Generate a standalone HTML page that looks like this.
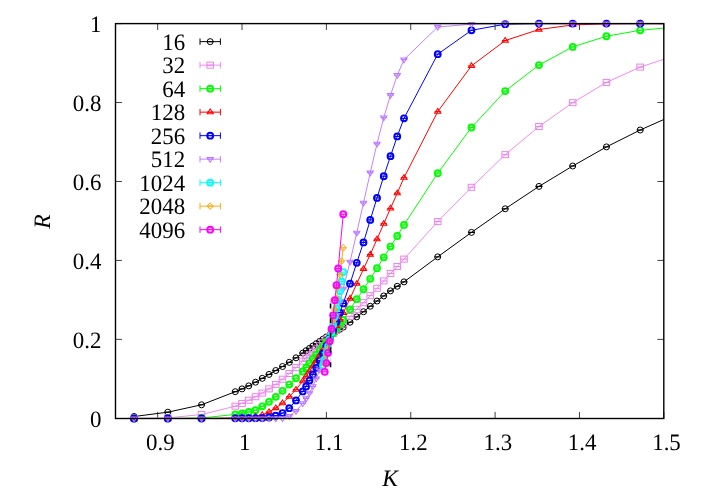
<!DOCTYPE html>
<html><head><meta charset="utf-8"><title>R vs K</title>
<style>html,body{margin:0;padding:0;background:#fff}svg{display:block;will-change:transform}text{font-family:"Liberation Serif",serif;font-size:23.5px;fill:#000;text-rendering:geometricPrecision}</style></head><body>
<svg width="706" height="494" viewBox="0 0 706 494">
<rect width="706" height="494" fill="#fff"/>
<path d="M157.68 418.3V411.9M157.68 23.6V30M242.03 418.3V411.9M242.03 23.6V30M326.38 418.3V411.9M326.38 23.6V30M410.74 418.3V411.9M410.74 23.6V30M495.09 418.3V411.9M495.09 23.6V30M579.45 418.3V411.9M579.45 23.6V30M663.8 418.3V411.9M663.8 23.6V30M115.5 418.5H121.9M663.8 418.5H657.4M115.5 339.36H121.9M663.8 339.36H657.4M115.5 260.42H121.9M663.8 260.42H657.4M115.5 181.48H121.9M663.8 181.48H657.4M115.5 102.54H121.9M663.8 102.54H657.4M115.5 23.6H121.9M663.8 23.6H657.4" stroke="#000" stroke-width="0.75" fill="none"/>
<text transform="translate(160.38 450) scale(0.975 1)" text-anchor="middle">0.9</text>
<text transform="translate(244.73 450) scale(0.975 1)" text-anchor="middle">1</text>
<text transform="translate(329.08 450) scale(0.975 1)" text-anchor="middle">1.1</text>
<text transform="translate(413.44 450) scale(0.975 1)" text-anchor="middle">1.2</text>
<text transform="translate(497.79 450) scale(0.975 1)" text-anchor="middle">1.3</text>
<text transform="translate(582.15 450) scale(0.975 1)" text-anchor="middle">1.4</text>
<text transform="translate(666.5 450) scale(0.975 1)" text-anchor="middle">1.5</text>
<text transform="translate(101.4 426.8) scale(0.975 1)" text-anchor="end">0</text>
<text transform="translate(101.4 347.66) scale(0.975 1)" text-anchor="end">0.2</text>
<text transform="translate(101.4 268.72) scale(0.975 1)" text-anchor="end">0.4</text>
<text transform="translate(101.4 189.78) scale(0.975 1)" text-anchor="end">0.6</text>
<text transform="translate(101.4 110.84) scale(0.975 1)" text-anchor="end">0.8</text>
<text transform="translate(101.4 31.9) scale(0.975 1)" text-anchor="end">1</text>
<text x="390" y="485.5" text-anchor="middle" font-style="italic" style="font-size:23.5px">K</text>
<text transform="translate(50.3 221.5) rotate(-90)" text-anchor="middle" font-style="italic" style="font-size:23.5px">R</text>
<defs><clipPath id="c"><rect x="115.5" y="23.1" width="548.3" height="395.7"/></clipPath></defs>
<g fill="none"><path d="M200 41.65H220.4M200 38.45V44.85M220.4 38.45V44.85" stroke="#000000" stroke-width="1.0"/><circle cx="210.2" cy="41.65" r="3" stroke="#000000" stroke-width="1"/><path d="M206.9 41.65H213.5" stroke="#000000" stroke-width="1.2"/><path d="M134.06 416.51L167.8 412.18L201.54 404.8L235.28 391.7L242.03 388.89L248.78 385.86L255.53 382.18L262.28 378.32L269.02 374.41L275.77 370.5L282.52 366.52L289.27 362.33L296.02 357.83L302.77 353.1L306.14 350.72L309.51 348.36L312.89 346.02L316.26 343.7L319.64 341.42L323.01 339.16L326.38 336.91L329.76 334.94L333.13 333.04L336.51 331.16L339.88 329.27L343.26 327.2L350 322.23L356.75 316.86L363.5 311.73L370.25 306.24L377 301.03L383.75 295.94L390.49 290.89L397.24 286.27L403.99 281.89L437.73 256.87L471.47 232.4L505.21 208.79L538.96 186.41L572.7 166.01L606.44 146.9L640.18 130.01L673.92 115.01" stroke="#000000" stroke-width="1.0" stroke-linejoin="round" clip-path="url(#c)"/><circle cx="134.06" cy="416.51" r="3" stroke="#000000" stroke-width="1"/><path d="M130.76 416.51H137.36" stroke="#000000" stroke-width="1.2"/><circle cx="167.8" cy="412.18" r="3" stroke="#000000" stroke-width="1"/><path d="M164.5 412.18H171.1" stroke="#000000" stroke-width="1.2"/><circle cx="201.54" cy="404.8" r="3" stroke="#000000" stroke-width="1"/><path d="M198.24 404.8H204.84" stroke="#000000" stroke-width="1.2"/><circle cx="235.28" cy="391.7" r="3" stroke="#000000" stroke-width="1"/><path d="M231.98 391.7H238.58" stroke="#000000" stroke-width="1.2"/><circle cx="242.03" cy="388.89" r="3" stroke="#000000" stroke-width="1"/><path d="M238.73 388.89H245.33" stroke="#000000" stroke-width="1.2"/><circle cx="248.78" cy="385.86" r="3" stroke="#000000" stroke-width="1"/><path d="M245.48 385.86H252.08" stroke="#000000" stroke-width="1.2"/><circle cx="255.53" cy="382.18" r="3" stroke="#000000" stroke-width="1"/><path d="M252.23 382.18H258.83" stroke="#000000" stroke-width="1.2"/><circle cx="262.28" cy="378.32" r="3" stroke="#000000" stroke-width="1"/><path d="M258.98 378.32H265.58" stroke="#000000" stroke-width="1.2"/><circle cx="269.02" cy="374.41" r="3" stroke="#000000" stroke-width="1"/><path d="M265.72 374.41H272.32" stroke="#000000" stroke-width="1.2"/><circle cx="275.77" cy="370.5" r="3" stroke="#000000" stroke-width="1"/><path d="M272.47 370.5H279.07" stroke="#000000" stroke-width="1.2"/><circle cx="282.52" cy="366.52" r="3" stroke="#000000" stroke-width="1"/><path d="M279.22 366.52H285.82" stroke="#000000" stroke-width="1.2"/><circle cx="289.27" cy="362.33" r="3" stroke="#000000" stroke-width="1"/><path d="M285.97 362.33H292.57" stroke="#000000" stroke-width="1.2"/><circle cx="296.02" cy="357.83" r="3" stroke="#000000" stroke-width="1"/><path d="M292.72 357.83H299.32" stroke="#000000" stroke-width="1.2"/><circle cx="302.77" cy="353.1" r="3" stroke="#000000" stroke-width="1"/><path d="M299.47 353.1H306.07" stroke="#000000" stroke-width="1.2"/><circle cx="306.14" cy="350.72" r="3" stroke="#000000" stroke-width="1"/><path d="M302.84 350.72H309.44" stroke="#000000" stroke-width="1.2"/><circle cx="309.51" cy="348.36" r="3" stroke="#000000" stroke-width="1"/><path d="M306.21 348.36H312.81" stroke="#000000" stroke-width="1.2"/><circle cx="312.89" cy="346.02" r="3" stroke="#000000" stroke-width="1"/><path d="M309.59 346.02H316.19" stroke="#000000" stroke-width="1.2"/><circle cx="316.26" cy="343.7" r="3" stroke="#000000" stroke-width="1"/><path d="M312.96 343.7H319.56" stroke="#000000" stroke-width="1.2"/><circle cx="319.64" cy="341.42" r="3" stroke="#000000" stroke-width="1"/><path d="M316.34 341.42H322.94" stroke="#000000" stroke-width="1.2"/><circle cx="323.01" cy="339.16" r="3" stroke="#000000" stroke-width="1"/><path d="M319.71 339.16H326.31" stroke="#000000" stroke-width="1.2"/><circle cx="326.38" cy="336.91" r="3" stroke="#000000" stroke-width="1"/><path d="M323.08 336.91H329.68" stroke="#000000" stroke-width="1.2"/><circle cx="329.76" cy="334.94" r="3" stroke="#000000" stroke-width="1"/><path d="M326.46 334.94H333.06" stroke="#000000" stroke-width="1.2"/><circle cx="333.13" cy="333.04" r="3" stroke="#000000" stroke-width="1"/><path d="M329.83 333.04H336.43" stroke="#000000" stroke-width="1.2"/><circle cx="336.51" cy="331.16" r="3" stroke="#000000" stroke-width="1"/><path d="M333.21 331.16H339.81" stroke="#000000" stroke-width="1.2"/><circle cx="339.88" cy="329.27" r="3" stroke="#000000" stroke-width="1"/><path d="M336.58 329.27H343.18" stroke="#000000" stroke-width="1.2"/><circle cx="343.26" cy="327.2" r="3" stroke="#000000" stroke-width="1"/><path d="M339.96 327.2H346.56" stroke="#000000" stroke-width="1.2"/><circle cx="350" cy="322.23" r="3" stroke="#000000" stroke-width="1"/><path d="M346.7 322.23H353.3" stroke="#000000" stroke-width="1.2"/><circle cx="356.75" cy="316.86" r="3" stroke="#000000" stroke-width="1"/><path d="M353.45 316.86H360.05" stroke="#000000" stroke-width="1.2"/><circle cx="363.5" cy="311.73" r="3" stroke="#000000" stroke-width="1"/><path d="M360.2 311.73H366.8" stroke="#000000" stroke-width="1.2"/><circle cx="370.25" cy="306.24" r="3" stroke="#000000" stroke-width="1"/><path d="M366.95 306.24H373.55" stroke="#000000" stroke-width="1.2"/><circle cx="377" cy="301.03" r="3" stroke="#000000" stroke-width="1"/><path d="M373.7 301.03H380.3" stroke="#000000" stroke-width="1.2"/><circle cx="383.75" cy="295.94" r="3" stroke="#000000" stroke-width="1"/><path d="M380.45 295.94H387.05" stroke="#000000" stroke-width="1.2"/><circle cx="390.49" cy="290.89" r="3" stroke="#000000" stroke-width="1"/><path d="M387.19 290.89H393.79" stroke="#000000" stroke-width="1.2"/><circle cx="397.24" cy="286.27" r="3" stroke="#000000" stroke-width="1"/><path d="M393.94 286.27H400.54" stroke="#000000" stroke-width="1.2"/><circle cx="403.99" cy="281.89" r="3" stroke="#000000" stroke-width="1"/><path d="M400.69 281.89H407.29" stroke="#000000" stroke-width="1.2"/><circle cx="437.73" cy="256.87" r="3" stroke="#000000" stroke-width="1"/><path d="M434.43 256.87H441.03" stroke="#000000" stroke-width="1.2"/><circle cx="471.47" cy="232.4" r="3" stroke="#000000" stroke-width="1"/><path d="M468.17 232.4H474.77" stroke="#000000" stroke-width="1.2"/><circle cx="505.21" cy="208.79" r="3" stroke="#000000" stroke-width="1"/><path d="M501.91 208.79H508.51" stroke="#000000" stroke-width="1.2"/><circle cx="538.96" cy="186.41" r="3" stroke="#000000" stroke-width="1"/><path d="M535.66 186.41H542.26" stroke="#000000" stroke-width="1.2"/><circle cx="572.7" cy="166.01" r="3" stroke="#000000" stroke-width="1"/><path d="M569.4 166.01H576" stroke="#000000" stroke-width="1.2"/><circle cx="606.44" cy="146.9" r="3" stroke="#000000" stroke-width="1"/><path d="M603.14 146.9H609.74" stroke="#000000" stroke-width="1.2"/><circle cx="640.18" cy="130.01" r="3" stroke="#000000" stroke-width="1"/><path d="M636.88 130.01H643.48" stroke="#000000" stroke-width="1.2"/></g>
<text transform="translate(185.1 49.7) scale(0.975 1)" text-anchor="end">16</text>
<g fill="none"><path d="M200 65.15H220.4M200 61.95V68.35M220.4 61.95V68.35" stroke="#ee82ee" stroke-width="0.92"/><rect x="206.9" y="62.15" width="6.6" height="6" stroke="#ee82ee" stroke-width="1"/><path d="M206.9 65.15H213.5" stroke="#ee82ee" stroke-width="1.1"/><path d="M134.06 418.38L167.8 417.88L201.54 414.52L235.28 406.18L242.03 403.42L248.78 400.22L255.53 396.71L262.28 393.04L269.02 388.89L275.77 384.36L282.52 379.22L289.27 373.5L296.02 367.58L302.77 361.19L306.14 358.06L309.51 354.97L312.89 351.91L316.26 348.86L319.64 345.81L323.01 342.76L326.38 339.69L329.76 336.6L333.13 333.53L336.51 330.48L339.88 327.34L343.26 324.01L350 316.47L356.75 309.36L363.5 302.69L370.25 295.63L377 288.29L383.75 280.94L390.49 273.45L397.24 266.5L403.99 259.12L437.73 221.58L471.47 187.28L505.21 154.64L538.96 126.5L572.7 102.7L606.44 82.41L640.18 67.1L673.92 55.97" stroke="#ee82ee" stroke-width="0.92" stroke-linejoin="round" clip-path="url(#c)"/><rect x="130.76" y="415.38" width="6.6" height="6" stroke="#ee82ee" stroke-width="1"/><path d="M130.76 418.38H137.36" stroke="#ee82ee" stroke-width="1.1"/><rect x="164.5" y="414.88" width="6.6" height="6" stroke="#ee82ee" stroke-width="1"/><path d="M164.5 417.88H171.1" stroke="#ee82ee" stroke-width="1.1"/><rect x="198.24" y="411.52" width="6.6" height="6" stroke="#ee82ee" stroke-width="1"/><path d="M198.24 414.52H204.84" stroke="#ee82ee" stroke-width="1.1"/><rect x="231.98" y="403.18" width="6.6" height="6" stroke="#ee82ee" stroke-width="1"/><path d="M231.98 406.18H238.58" stroke="#ee82ee" stroke-width="1.1"/><rect x="238.73" y="400.42" width="6.6" height="6" stroke="#ee82ee" stroke-width="1"/><path d="M238.73 403.42H245.33" stroke="#ee82ee" stroke-width="1.1"/><rect x="245.48" y="397.22" width="6.6" height="6" stroke="#ee82ee" stroke-width="1"/><path d="M245.48 400.22H252.08" stroke="#ee82ee" stroke-width="1.1"/><rect x="252.23" y="393.71" width="6.6" height="6" stroke="#ee82ee" stroke-width="1"/><path d="M252.23 396.71H258.83" stroke="#ee82ee" stroke-width="1.1"/><rect x="258.98" y="390.04" width="6.6" height="6" stroke="#ee82ee" stroke-width="1"/><path d="M258.98 393.04H265.58" stroke="#ee82ee" stroke-width="1.1"/><rect x="265.72" y="385.89" width="6.6" height="6" stroke="#ee82ee" stroke-width="1"/><path d="M265.72 388.89H272.32" stroke="#ee82ee" stroke-width="1.1"/><rect x="272.47" y="381.36" width="6.6" height="6" stroke="#ee82ee" stroke-width="1"/><path d="M272.47 384.36H279.07" stroke="#ee82ee" stroke-width="1.1"/><rect x="279.22" y="376.22" width="6.6" height="6" stroke="#ee82ee" stroke-width="1"/><path d="M279.22 379.22H285.82" stroke="#ee82ee" stroke-width="1.1"/><rect x="285.97" y="370.5" width="6.6" height="6" stroke="#ee82ee" stroke-width="1"/><path d="M285.97 373.5H292.57" stroke="#ee82ee" stroke-width="1.1"/><rect x="292.72" y="364.58" width="6.6" height="6" stroke="#ee82ee" stroke-width="1"/><path d="M292.72 367.58H299.32" stroke="#ee82ee" stroke-width="1.1"/><rect x="299.47" y="358.19" width="6.6" height="6" stroke="#ee82ee" stroke-width="1"/><path d="M299.47 361.19H306.07" stroke="#ee82ee" stroke-width="1.1"/><rect x="302.84" y="355.06" width="6.6" height="6" stroke="#ee82ee" stroke-width="1"/><path d="M302.84 358.06H309.44" stroke="#ee82ee" stroke-width="1.1"/><rect x="306.21" y="351.97" width="6.6" height="6" stroke="#ee82ee" stroke-width="1"/><path d="M306.21 354.97H312.81" stroke="#ee82ee" stroke-width="1.1"/><rect x="309.59" y="348.91" width="6.6" height="6" stroke="#ee82ee" stroke-width="1"/><path d="M309.59 351.91H316.19" stroke="#ee82ee" stroke-width="1.1"/><rect x="312.96" y="345.86" width="6.6" height="6" stroke="#ee82ee" stroke-width="1"/><path d="M312.96 348.86H319.56" stroke="#ee82ee" stroke-width="1.1"/><rect x="316.34" y="342.81" width="6.6" height="6" stroke="#ee82ee" stroke-width="1"/><path d="M316.34 345.81H322.94" stroke="#ee82ee" stroke-width="1.1"/><rect x="319.71" y="339.76" width="6.6" height="6" stroke="#ee82ee" stroke-width="1"/><path d="M319.71 342.76H326.31" stroke="#ee82ee" stroke-width="1.1"/><rect x="323.08" y="336.69" width="6.6" height="6" stroke="#ee82ee" stroke-width="1"/><path d="M323.08 339.69H329.68" stroke="#ee82ee" stroke-width="1.1"/><rect x="326.46" y="333.6" width="6.6" height="6" stroke="#ee82ee" stroke-width="1"/><path d="M326.46 336.6H333.06" stroke="#ee82ee" stroke-width="1.1"/><rect x="329.83" y="330.53" width="6.6" height="6" stroke="#ee82ee" stroke-width="1"/><path d="M329.83 333.53H336.43" stroke="#ee82ee" stroke-width="1.1"/><rect x="333.21" y="327.48" width="6.6" height="6" stroke="#ee82ee" stroke-width="1"/><path d="M333.21 330.48H339.81" stroke="#ee82ee" stroke-width="1.1"/><rect x="336.58" y="324.34" width="6.6" height="6" stroke="#ee82ee" stroke-width="1"/><path d="M336.58 327.34H343.18" stroke="#ee82ee" stroke-width="1.1"/><rect x="339.96" y="321.01" width="6.6" height="6" stroke="#ee82ee" stroke-width="1"/><path d="M339.96 324.01H346.56" stroke="#ee82ee" stroke-width="1.1"/><rect x="346.7" y="313.47" width="6.6" height="6" stroke="#ee82ee" stroke-width="1"/><path d="M346.7 316.47H353.3" stroke="#ee82ee" stroke-width="1.1"/><rect x="353.45" y="306.36" width="6.6" height="6" stroke="#ee82ee" stroke-width="1"/><path d="M353.45 309.36H360.05" stroke="#ee82ee" stroke-width="1.1"/><rect x="360.2" y="299.69" width="6.6" height="6" stroke="#ee82ee" stroke-width="1"/><path d="M360.2 302.69H366.8" stroke="#ee82ee" stroke-width="1.1"/><rect x="366.95" y="292.63" width="6.6" height="6" stroke="#ee82ee" stroke-width="1"/><path d="M366.95 295.63H373.55" stroke="#ee82ee" stroke-width="1.1"/><rect x="373.7" y="285.29" width="6.6" height="6" stroke="#ee82ee" stroke-width="1"/><path d="M373.7 288.29H380.3" stroke="#ee82ee" stroke-width="1.1"/><rect x="380.45" y="277.94" width="6.6" height="6" stroke="#ee82ee" stroke-width="1"/><path d="M380.45 280.94H387.05" stroke="#ee82ee" stroke-width="1.1"/><rect x="387.19" y="270.45" width="6.6" height="6" stroke="#ee82ee" stroke-width="1"/><path d="M387.19 273.45H393.79" stroke="#ee82ee" stroke-width="1.1"/><rect x="393.94" y="263.5" width="6.6" height="6" stroke="#ee82ee" stroke-width="1"/><path d="M393.94 266.5H400.54" stroke="#ee82ee" stroke-width="1.1"/><rect x="400.69" y="256.12" width="6.6" height="6" stroke="#ee82ee" stroke-width="1"/><path d="M400.69 259.12H407.29" stroke="#ee82ee" stroke-width="1.1"/><rect x="434.43" y="218.58" width="6.6" height="6" stroke="#ee82ee" stroke-width="1"/><path d="M434.43 221.58H441.03" stroke="#ee82ee" stroke-width="1.1"/><rect x="468.17" y="184.28" width="6.6" height="6" stroke="#ee82ee" stroke-width="1"/><path d="M468.17 187.28H474.77" stroke="#ee82ee" stroke-width="1.1"/><rect x="501.91" y="151.64" width="6.6" height="6" stroke="#ee82ee" stroke-width="1"/><path d="M501.91 154.64H508.51" stroke="#ee82ee" stroke-width="1.1"/><rect x="535.66" y="123.5" width="6.6" height="6" stroke="#ee82ee" stroke-width="1"/><path d="M535.66 126.5H542.26" stroke="#ee82ee" stroke-width="1.1"/><rect x="569.4" y="99.7" width="6.6" height="6" stroke="#ee82ee" stroke-width="1"/><path d="M569.4 102.7H576" stroke="#ee82ee" stroke-width="1.1"/><rect x="603.14" y="79.41" width="6.6" height="6" stroke="#ee82ee" stroke-width="1"/><path d="M603.14 82.41H609.74" stroke="#ee82ee" stroke-width="1.1"/><rect x="636.88" y="64.1" width="6.6" height="6" stroke="#ee82ee" stroke-width="1"/><path d="M636.88 67.1H643.48" stroke="#ee82ee" stroke-width="1.1"/></g>
<text transform="translate(185.1 73.2) scale(0.975 1)" text-anchor="end">32</text>
<g fill="none"><path d="M200 88.65H220.4M200 85.45V91.85M220.4 85.45V91.85" stroke="#00ff00" stroke-width="1.0"/><circle cx="210.2" cy="88.65" r="2.95" stroke="#00ff00" stroke-width="1.9"/><path d="M206.8 88.65H213.6" stroke="#00ff00" stroke-width="1.2"/><path d="M134.06 418.5L167.8 418.42L201.54 418L235.28 414.39L242.03 413.48L248.78 411.98L255.53 410.21L262.28 406.3L269.02 401.84L275.77 396.79L282.52 390.87L289.27 384.55L296.02 378.24L302.77 371.49L306.14 367.38L309.51 363.12L312.89 358.9L316.26 354.67L319.64 350.39L323.01 346.07L326.38 341.73L329.76 337.39L333.13 333.14L336.51 328.95L339.88 324.64L343.26 320.02L350 309.4L356.75 299.18L363.5 289.23L370.25 278.81L377 268.2L383.75 257.3L390.49 246.53L397.24 235.99L403.99 224.9L437.73 173.19L471.47 127.49L505.21 91.09L538.96 65.04L572.7 46.89L606.44 36.23L640.18 30.31L673.92 27.15" stroke="#00ff00" stroke-width="1.0" stroke-linejoin="round" clip-path="url(#c)"/><circle cx="134.06" cy="418.5" r="2.95" stroke="#00ff00" stroke-width="1.9"/><path d="M130.66 418.5H137.46" stroke="#00ff00" stroke-width="1.2"/><circle cx="167.8" cy="418.42" r="2.95" stroke="#00ff00" stroke-width="1.9"/><path d="M164.4 418.42H171.2" stroke="#00ff00" stroke-width="1.2"/><circle cx="201.54" cy="418" r="2.95" stroke="#00ff00" stroke-width="1.9"/><path d="M198.14 418H204.94" stroke="#00ff00" stroke-width="1.2"/><circle cx="235.28" cy="414.39" r="2.95" stroke="#00ff00" stroke-width="1.9"/><path d="M231.88 414.39H238.68" stroke="#00ff00" stroke-width="1.2"/><circle cx="242.03" cy="413.48" r="2.95" stroke="#00ff00" stroke-width="1.9"/><path d="M238.63 413.48H245.43" stroke="#00ff00" stroke-width="1.2"/><circle cx="248.78" cy="411.98" r="2.95" stroke="#00ff00" stroke-width="1.9"/><path d="M245.38 411.98H252.18" stroke="#00ff00" stroke-width="1.2"/><circle cx="255.53" cy="410.21" r="2.95" stroke="#00ff00" stroke-width="1.9"/><path d="M252.13 410.21H258.93" stroke="#00ff00" stroke-width="1.2"/><circle cx="262.28" cy="406.3" r="2.95" stroke="#00ff00" stroke-width="1.9"/><path d="M258.88 406.3H265.68" stroke="#00ff00" stroke-width="1.2"/><circle cx="269.02" cy="401.84" r="2.95" stroke="#00ff00" stroke-width="1.9"/><path d="M265.62 401.84H272.42" stroke="#00ff00" stroke-width="1.2"/><circle cx="275.77" cy="396.79" r="2.95" stroke="#00ff00" stroke-width="1.9"/><path d="M272.37 396.79H279.17" stroke="#00ff00" stroke-width="1.2"/><circle cx="282.52" cy="390.87" r="2.95" stroke="#00ff00" stroke-width="1.9"/><path d="M279.12 390.87H285.92" stroke="#00ff00" stroke-width="1.2"/><circle cx="289.27" cy="384.55" r="2.95" stroke="#00ff00" stroke-width="1.9"/><path d="M285.87 384.55H292.67" stroke="#00ff00" stroke-width="1.2"/><circle cx="296.02" cy="378.24" r="2.95" stroke="#00ff00" stroke-width="1.9"/><path d="M292.62 378.24H299.42" stroke="#00ff00" stroke-width="1.2"/><circle cx="302.77" cy="371.49" r="2.95" stroke="#00ff00" stroke-width="1.9"/><path d="M299.37 371.49H306.17" stroke="#00ff00" stroke-width="1.2"/><circle cx="306.14" cy="367.38" r="2.95" stroke="#00ff00" stroke-width="1.9"/><path d="M302.74 367.38H309.54" stroke="#00ff00" stroke-width="1.2"/><circle cx="309.51" cy="363.12" r="2.95" stroke="#00ff00" stroke-width="1.9"/><path d="M306.11 363.12H312.91" stroke="#00ff00" stroke-width="1.2"/><circle cx="312.89" cy="358.9" r="2.95" stroke="#00ff00" stroke-width="1.9"/><path d="M309.49 358.9H316.29" stroke="#00ff00" stroke-width="1.2"/><circle cx="316.26" cy="354.67" r="2.95" stroke="#00ff00" stroke-width="1.9"/><path d="M312.86 354.67H319.66" stroke="#00ff00" stroke-width="1.2"/><circle cx="319.64" cy="350.39" r="2.95" stroke="#00ff00" stroke-width="1.9"/><path d="M316.24 350.39H323.04" stroke="#00ff00" stroke-width="1.2"/><circle cx="323.01" cy="346.07" r="2.95" stroke="#00ff00" stroke-width="1.9"/><path d="M319.61 346.07H326.41" stroke="#00ff00" stroke-width="1.2"/><circle cx="326.38" cy="341.73" r="2.95" stroke="#00ff00" stroke-width="1.9"/><path d="M322.98 341.73H329.78" stroke="#00ff00" stroke-width="1.2"/><circle cx="329.76" cy="337.39" r="2.95" stroke="#00ff00" stroke-width="1.9"/><path d="M326.36 337.39H333.16" stroke="#00ff00" stroke-width="1.2"/><circle cx="333.13" cy="333.14" r="2.95" stroke="#00ff00" stroke-width="1.9"/><path d="M329.73 333.14H336.53" stroke="#00ff00" stroke-width="1.2"/><circle cx="336.51" cy="328.95" r="2.95" stroke="#00ff00" stroke-width="1.9"/><path d="M333.11 328.95H339.91" stroke="#00ff00" stroke-width="1.2"/><circle cx="339.88" cy="324.64" r="2.95" stroke="#00ff00" stroke-width="1.9"/><path d="M336.48 324.64H343.28" stroke="#00ff00" stroke-width="1.2"/><circle cx="343.26" cy="320.02" r="2.95" stroke="#00ff00" stroke-width="1.9"/><path d="M339.86 320.02H346.66" stroke="#00ff00" stroke-width="1.2"/><circle cx="350" cy="309.4" r="2.95" stroke="#00ff00" stroke-width="1.9"/><path d="M346.6 309.4H353.4" stroke="#00ff00" stroke-width="1.2"/><circle cx="356.75" cy="299.18" r="2.95" stroke="#00ff00" stroke-width="1.9"/><path d="M353.35 299.18H360.15" stroke="#00ff00" stroke-width="1.2"/><circle cx="363.5" cy="289.23" r="2.95" stroke="#00ff00" stroke-width="1.9"/><path d="M360.1 289.23H366.9" stroke="#00ff00" stroke-width="1.2"/><circle cx="370.25" cy="278.81" r="2.95" stroke="#00ff00" stroke-width="1.9"/><path d="M366.85 278.81H373.65" stroke="#00ff00" stroke-width="1.2"/><circle cx="377" cy="268.2" r="2.95" stroke="#00ff00" stroke-width="1.9"/><path d="M373.6 268.2H380.4" stroke="#00ff00" stroke-width="1.2"/><circle cx="383.75" cy="257.3" r="2.95" stroke="#00ff00" stroke-width="1.9"/><path d="M380.35 257.3H387.15" stroke="#00ff00" stroke-width="1.2"/><circle cx="390.49" cy="246.53" r="2.95" stroke="#00ff00" stroke-width="1.9"/><path d="M387.09 246.53H393.89" stroke="#00ff00" stroke-width="1.2"/><circle cx="397.24" cy="235.99" r="2.95" stroke="#00ff00" stroke-width="1.9"/><path d="M393.84 235.99H400.64" stroke="#00ff00" stroke-width="1.2"/><circle cx="403.99" cy="224.9" r="2.95" stroke="#00ff00" stroke-width="1.9"/><path d="M400.59 224.9H407.39" stroke="#00ff00" stroke-width="1.2"/><circle cx="437.73" cy="173.19" r="2.95" stroke="#00ff00" stroke-width="1.9"/><path d="M434.33 173.19H441.13" stroke="#00ff00" stroke-width="1.2"/><circle cx="471.47" cy="127.49" r="2.95" stroke="#00ff00" stroke-width="1.9"/><path d="M468.07 127.49H474.87" stroke="#00ff00" stroke-width="1.2"/><circle cx="505.21" cy="91.09" r="2.95" stroke="#00ff00" stroke-width="1.9"/><path d="M501.81 91.09H508.61" stroke="#00ff00" stroke-width="1.2"/><circle cx="538.96" cy="65.04" r="2.95" stroke="#00ff00" stroke-width="1.9"/><path d="M535.56 65.04H542.36" stroke="#00ff00" stroke-width="1.2"/><circle cx="572.7" cy="46.89" r="2.95" stroke="#00ff00" stroke-width="1.9"/><path d="M569.3 46.89H576.1" stroke="#00ff00" stroke-width="1.2"/><circle cx="606.44" cy="36.23" r="2.95" stroke="#00ff00" stroke-width="1.9"/><path d="M603.04 36.23H609.84" stroke="#00ff00" stroke-width="1.2"/><circle cx="640.18" cy="30.31" r="2.95" stroke="#00ff00" stroke-width="1.9"/><path d="M636.78 30.31H643.58" stroke="#00ff00" stroke-width="1.2"/></g>
<text transform="translate(185.1 96.7) scale(0.975 1)" text-anchor="end">64</text>
<g fill="none"><path d="M200 112.15H220.4M200 108.95V115.35M220.4 108.95V115.35" stroke="#ff0000" stroke-width="1.0"/><path d="M210.2 109.05L213.3 113.75L207.1 113.75Z" stroke="#ff0000" stroke-width="1.05"/><path d="M207 112.15H213.4" stroke="#ff0000" stroke-width="1.1"/><path d="M134.06 418.5L167.8 418.5L201.54 418.42L235.28 418.09L242.03 417.88L248.78 417.34L255.53 416.59L262.28 414.81L269.02 411.98L275.77 408.04L282.52 403.1L289.27 396.71L296.02 389.61L302.77 381.08L306.14 376.31L309.51 371.31L312.89 366.11L316.26 360.74L319.64 355.22L323.01 349.58L326.38 343.83L329.76 338.02L333.13 332.1L336.51 325.98L339.88 319.62L343.26 312.99L350 298.51L356.75 283.71L363.5 268.91L370.25 254.5L377 239.19L383.75 223.71L390.49 208.4L397.24 193.2L403.99 177.69L437.73 111.62L471.47 65.83L505.21 40.57L538.96 29.52L572.7 24.94L606.44 23.8L640.18 23.6L673.92 23.6" stroke="#ff0000" stroke-width="1.0" stroke-linejoin="round" clip-path="url(#c)"/><path d="M134.06 415.4L137.16 420.1L130.96 420.1Z" stroke="#ff0000" stroke-width="1.05"/><path d="M130.86 418.5H137.26" stroke="#ff0000" stroke-width="1.1"/><path d="M167.8 415.4L170.9 420.1L164.7 420.1Z" stroke="#ff0000" stroke-width="1.05"/><path d="M164.6 418.5H171" stroke="#ff0000" stroke-width="1.1"/><path d="M201.54 415.32L204.64 420.02L198.44 420.02Z" stroke="#ff0000" stroke-width="1.05"/><path d="M198.34 418.42H204.74" stroke="#ff0000" stroke-width="1.1"/><path d="M235.28 414.99L238.38 419.69L232.18 419.69Z" stroke="#ff0000" stroke-width="1.05"/><path d="M232.08 418.09H238.48" stroke="#ff0000" stroke-width="1.1"/><path d="M242.03 414.78L245.13 419.48L238.93 419.48Z" stroke="#ff0000" stroke-width="1.05"/><path d="M238.83 417.88H245.23" stroke="#ff0000" stroke-width="1.1"/><path d="M248.78 414.24L251.88 418.94L245.68 418.94Z" stroke="#ff0000" stroke-width="1.05"/><path d="M245.58 417.34H251.98" stroke="#ff0000" stroke-width="1.1"/><path d="M255.53 413.49L258.63 418.19L252.43 418.19Z" stroke="#ff0000" stroke-width="1.05"/><path d="M252.33 416.59H258.73" stroke="#ff0000" stroke-width="1.1"/><path d="M262.28 411.71L265.38 416.41L259.18 416.41Z" stroke="#ff0000" stroke-width="1.05"/><path d="M259.08 414.81H265.48" stroke="#ff0000" stroke-width="1.1"/><path d="M269.02 408.88L272.12 413.58L265.92 413.58Z" stroke="#ff0000" stroke-width="1.05"/><path d="M265.82 411.98H272.22" stroke="#ff0000" stroke-width="1.1"/><path d="M275.77 404.94L278.87 409.64L272.67 409.64Z" stroke="#ff0000" stroke-width="1.05"/><path d="M272.57 408.04H278.97" stroke="#ff0000" stroke-width="1.1"/><path d="M282.52 400L285.62 404.7L279.42 404.7Z" stroke="#ff0000" stroke-width="1.05"/><path d="M279.32 403.1H285.72" stroke="#ff0000" stroke-width="1.1"/><path d="M289.27 393.61L292.37 398.31L286.17 398.31Z" stroke="#ff0000" stroke-width="1.05"/><path d="M286.07 396.71H292.47" stroke="#ff0000" stroke-width="1.1"/><path d="M296.02 386.51L299.12 391.21L292.92 391.21Z" stroke="#ff0000" stroke-width="1.05"/><path d="M292.82 389.61H299.22" stroke="#ff0000" stroke-width="1.1"/><path d="M302.77 377.98L305.87 382.68L299.67 382.68Z" stroke="#ff0000" stroke-width="1.05"/><path d="M299.57 381.08H305.97" stroke="#ff0000" stroke-width="1.1"/><path d="M306.14 373.21L309.24 377.91L303.04 377.91Z" stroke="#ff0000" stroke-width="1.05"/><path d="M302.94 376.31H309.34" stroke="#ff0000" stroke-width="1.1"/><path d="M309.51 368.21L312.61 372.91L306.41 372.91Z" stroke="#ff0000" stroke-width="1.05"/><path d="M306.31 371.31H312.71" stroke="#ff0000" stroke-width="1.1"/><path d="M312.89 363.01L315.99 367.71L309.79 367.71Z" stroke="#ff0000" stroke-width="1.05"/><path d="M309.69 366.11H316.09" stroke="#ff0000" stroke-width="1.1"/><path d="M316.26 357.64L319.36 362.34L313.16 362.34Z" stroke="#ff0000" stroke-width="1.05"/><path d="M313.06 360.74H319.46" stroke="#ff0000" stroke-width="1.1"/><path d="M319.64 352.12L322.74 356.82L316.54 356.82Z" stroke="#ff0000" stroke-width="1.05"/><path d="M316.44 355.22H322.84" stroke="#ff0000" stroke-width="1.1"/><path d="M323.01 346.48L326.11 351.18L319.91 351.18Z" stroke="#ff0000" stroke-width="1.05"/><path d="M319.81 349.58H326.21" stroke="#ff0000" stroke-width="1.1"/><path d="M326.38 340.73L329.48 345.43L323.28 345.43Z" stroke="#ff0000" stroke-width="1.05"/><path d="M323.18 343.83H329.58" stroke="#ff0000" stroke-width="1.1"/><path d="M329.76 334.92L332.86 339.62L326.66 339.62Z" stroke="#ff0000" stroke-width="1.05"/><path d="M326.56 338.02H332.96" stroke="#ff0000" stroke-width="1.1"/><path d="M333.13 329L336.23 333.7L330.03 333.7Z" stroke="#ff0000" stroke-width="1.05"/><path d="M329.93 332.1H336.33" stroke="#ff0000" stroke-width="1.1"/><path d="M336.51 322.88L339.61 327.58L333.41 327.58Z" stroke="#ff0000" stroke-width="1.05"/><path d="M333.31 325.98H339.71" stroke="#ff0000" stroke-width="1.1"/><path d="M339.88 316.52L342.98 321.22L336.78 321.22Z" stroke="#ff0000" stroke-width="1.05"/><path d="M336.68 319.62H343.08" stroke="#ff0000" stroke-width="1.1"/><path d="M343.26 309.89L346.36 314.59L340.16 314.59Z" stroke="#ff0000" stroke-width="1.05"/><path d="M340.06 312.99H346.46" stroke="#ff0000" stroke-width="1.1"/><path d="M350 295.41L353.1 300.11L346.9 300.11Z" stroke="#ff0000" stroke-width="1.05"/><path d="M346.8 298.51H353.2" stroke="#ff0000" stroke-width="1.1"/><path d="M356.75 280.61L359.85 285.31L353.65 285.31Z" stroke="#ff0000" stroke-width="1.05"/><path d="M353.55 283.71H359.95" stroke="#ff0000" stroke-width="1.1"/><path d="M363.5 265.81L366.6 270.51L360.4 270.51Z" stroke="#ff0000" stroke-width="1.05"/><path d="M360.3 268.91H366.7" stroke="#ff0000" stroke-width="1.1"/><path d="M370.25 251.4L373.35 256.1L367.15 256.1Z" stroke="#ff0000" stroke-width="1.05"/><path d="M367.05 254.5H373.45" stroke="#ff0000" stroke-width="1.1"/><path d="M377 236.09L380.1 240.79L373.9 240.79Z" stroke="#ff0000" stroke-width="1.05"/><path d="M373.8 239.19H380.2" stroke="#ff0000" stroke-width="1.1"/><path d="M383.75 220.61L386.85 225.31L380.65 225.31Z" stroke="#ff0000" stroke-width="1.05"/><path d="M380.55 223.71H386.95" stroke="#ff0000" stroke-width="1.1"/><path d="M390.49 205.3L393.59 210L387.39 210Z" stroke="#ff0000" stroke-width="1.05"/><path d="M387.29 208.4H393.69" stroke="#ff0000" stroke-width="1.1"/><path d="M397.24 190.1L400.34 194.8L394.14 194.8Z" stroke="#ff0000" stroke-width="1.05"/><path d="M394.04 193.2H400.44" stroke="#ff0000" stroke-width="1.1"/><path d="M403.99 174.59L407.09 179.29L400.89 179.29Z" stroke="#ff0000" stroke-width="1.05"/><path d="M400.79 177.69H407.19" stroke="#ff0000" stroke-width="1.1"/><path d="M437.73 108.52L440.83 113.22L434.63 113.22Z" stroke="#ff0000" stroke-width="1.05"/><path d="M434.53 111.62H440.93" stroke="#ff0000" stroke-width="1.1"/><path d="M471.47 62.73L474.57 67.43L468.37 67.43Z" stroke="#ff0000" stroke-width="1.05"/><path d="M468.27 65.83H474.67" stroke="#ff0000" stroke-width="1.1"/><path d="M505.21 37.47L508.31 42.17L502.11 42.17Z" stroke="#ff0000" stroke-width="1.05"/><path d="M502.01 40.57H508.41" stroke="#ff0000" stroke-width="1.1"/><path d="M538.96 26.42L542.06 31.12L535.86 31.12Z" stroke="#ff0000" stroke-width="1.05"/><path d="M535.76 29.52H542.16" stroke="#ff0000" stroke-width="1.1"/><path d="M572.7 21.84L575.8 26.54L569.6 26.54Z" stroke="#ff0000" stroke-width="1.05"/><path d="M569.5 24.94H575.9" stroke="#ff0000" stroke-width="1.1"/><path d="M606.44 20.7L609.54 25.4L603.34 25.4Z" stroke="#ff0000" stroke-width="1.05"/><path d="M603.24 23.8H609.64" stroke="#ff0000" stroke-width="1.1"/><path d="M640.18 20.5L643.28 25.2L637.08 25.2Z" stroke="#ff0000" stroke-width="1.05"/><path d="M636.98 23.6H643.38" stroke="#ff0000" stroke-width="1.1"/></g>
<text transform="translate(185.1 120.2) scale(0.975 1)" text-anchor="end">128</text>
<g fill="none"><path d="M200 135.65H220.4M200 132.45V138.85M220.4 132.45V138.85" stroke="#0000ff" stroke-width="1.0"/><circle cx="210.2" cy="135.65" r="2.95" stroke="#0000ff" stroke-width="1.9"/><path d="M206.8 135.65H213.6" stroke="#0000ff" stroke-width="1.2"/><path d="M134.06 418.5L167.8 418.5L201.54 418.5L235.28 418.29L242.03 418.27L248.78 418.25L255.53 418.21L262.28 418.09L269.02 417.46L275.77 415.76L282.52 413.09L289.27 408.16L296.02 400.38L302.77 391.38L306.14 386.41L309.51 380.62L312.89 374.4L316.26 367.78L319.64 360.82L323.01 353.57L326.38 346.06L329.76 338.36L333.13 330.32L336.51 321.7L339.88 312.68L343.26 303.4L350 283.71L356.75 262.79L363.5 242.42L370.25 219.88L377 197.9L383.75 176.23L390.49 156.22L397.24 136.41L403.99 118.33L437.73 54.19L471.47 30.31L505.21 24.19L538.96 23.6L572.7 23.6L606.44 23.6L640.18 23.6L673.92 23.6" stroke="#0000ff" stroke-width="1.0" stroke-linejoin="round" clip-path="url(#c)"/><circle cx="134.06" cy="418.5" r="2.95" stroke="#0000ff" stroke-width="1.9"/><path d="M130.66 418.5H137.46" stroke="#0000ff" stroke-width="1.2"/><circle cx="167.8" cy="418.5" r="2.95" stroke="#0000ff" stroke-width="1.9"/><path d="M164.4 418.5H171.2" stroke="#0000ff" stroke-width="1.2"/><circle cx="201.54" cy="418.5" r="2.95" stroke="#0000ff" stroke-width="1.9"/><path d="M198.14 418.5H204.94" stroke="#0000ff" stroke-width="1.2"/><circle cx="235.28" cy="418.29" r="2.95" stroke="#0000ff" stroke-width="1.9"/><path d="M231.88 418.29H238.68" stroke="#0000ff" stroke-width="1.2"/><circle cx="242.03" cy="418.27" r="2.95" stroke="#0000ff" stroke-width="1.9"/><path d="M238.63 418.27H245.43" stroke="#0000ff" stroke-width="1.2"/><circle cx="248.78" cy="418.25" r="2.95" stroke="#0000ff" stroke-width="1.9"/><path d="M245.38 418.25H252.18" stroke="#0000ff" stroke-width="1.2"/><circle cx="255.53" cy="418.21" r="2.95" stroke="#0000ff" stroke-width="1.9"/><path d="M252.13 418.21H258.93" stroke="#0000ff" stroke-width="1.2"/><circle cx="262.28" cy="418.09" r="2.95" stroke="#0000ff" stroke-width="1.9"/><path d="M258.88 418.09H265.68" stroke="#0000ff" stroke-width="1.2"/><circle cx="269.02" cy="417.46" r="2.95" stroke="#0000ff" stroke-width="1.9"/><path d="M265.62 417.46H272.42" stroke="#0000ff" stroke-width="1.2"/><circle cx="275.77" cy="415.76" r="2.95" stroke="#0000ff" stroke-width="1.9"/><path d="M272.37 415.76H279.17" stroke="#0000ff" stroke-width="1.2"/><circle cx="282.52" cy="413.09" r="2.95" stroke="#0000ff" stroke-width="1.9"/><path d="M279.12 413.09H285.92" stroke="#0000ff" stroke-width="1.2"/><circle cx="289.27" cy="408.16" r="2.95" stroke="#0000ff" stroke-width="1.9"/><path d="M285.87 408.16H292.67" stroke="#0000ff" stroke-width="1.2"/><circle cx="296.02" cy="400.38" r="2.95" stroke="#0000ff" stroke-width="1.9"/><path d="M292.62 400.38H299.42" stroke="#0000ff" stroke-width="1.2"/><circle cx="302.77" cy="391.38" r="2.95" stroke="#0000ff" stroke-width="1.9"/><path d="M299.37 391.38H306.17" stroke="#0000ff" stroke-width="1.2"/><circle cx="306.14" cy="386.41" r="2.95" stroke="#0000ff" stroke-width="1.9"/><path d="M302.74 386.41H309.54" stroke="#0000ff" stroke-width="1.2"/><circle cx="309.51" cy="380.62" r="2.95" stroke="#0000ff" stroke-width="1.9"/><path d="M306.11 380.62H312.91" stroke="#0000ff" stroke-width="1.2"/><circle cx="312.89" cy="374.4" r="2.95" stroke="#0000ff" stroke-width="1.9"/><path d="M309.49 374.4H316.29" stroke="#0000ff" stroke-width="1.2"/><circle cx="316.26" cy="367.78" r="2.95" stroke="#0000ff" stroke-width="1.9"/><path d="M312.86 367.78H319.66" stroke="#0000ff" stroke-width="1.2"/><circle cx="319.64" cy="360.82" r="2.95" stroke="#0000ff" stroke-width="1.9"/><path d="M316.24 360.82H323.04" stroke="#0000ff" stroke-width="1.2"/><circle cx="323.01" cy="353.57" r="2.95" stroke="#0000ff" stroke-width="1.9"/><path d="M319.61 353.57H326.41" stroke="#0000ff" stroke-width="1.2"/><circle cx="326.38" cy="346.06" r="2.95" stroke="#0000ff" stroke-width="1.9"/><path d="M322.98 346.06H329.78" stroke="#0000ff" stroke-width="1.2"/><circle cx="329.76" cy="338.36" r="2.95" stroke="#0000ff" stroke-width="1.9"/><path d="M326.36 338.36H333.16" stroke="#0000ff" stroke-width="1.2"/><circle cx="333.13" cy="330.32" r="2.95" stroke="#0000ff" stroke-width="1.9"/><path d="M329.73 330.32H336.53" stroke="#0000ff" stroke-width="1.2"/><circle cx="336.51" cy="321.7" r="2.95" stroke="#0000ff" stroke-width="1.9"/><path d="M333.11 321.7H339.91" stroke="#0000ff" stroke-width="1.2"/><circle cx="339.88" cy="312.68" r="2.95" stroke="#0000ff" stroke-width="1.9"/><path d="M336.48 312.68H343.28" stroke="#0000ff" stroke-width="1.2"/><circle cx="343.26" cy="303.4" r="2.95" stroke="#0000ff" stroke-width="1.9"/><path d="M339.86 303.4H346.66" stroke="#0000ff" stroke-width="1.2"/><circle cx="350" cy="283.71" r="2.95" stroke="#0000ff" stroke-width="1.9"/><path d="M346.6 283.71H353.4" stroke="#0000ff" stroke-width="1.2"/><circle cx="356.75" cy="262.79" r="2.95" stroke="#0000ff" stroke-width="1.9"/><path d="M353.35 262.79H360.15" stroke="#0000ff" stroke-width="1.2"/><circle cx="363.5" cy="242.42" r="2.95" stroke="#0000ff" stroke-width="1.9"/><path d="M360.1 242.42H366.9" stroke="#0000ff" stroke-width="1.2"/><circle cx="370.25" cy="219.88" r="2.95" stroke="#0000ff" stroke-width="1.9"/><path d="M366.85 219.88H373.65" stroke="#0000ff" stroke-width="1.2"/><circle cx="377" cy="197.9" r="2.95" stroke="#0000ff" stroke-width="1.9"/><path d="M373.6 197.9H380.4" stroke="#0000ff" stroke-width="1.2"/><circle cx="383.75" cy="176.23" r="2.95" stroke="#0000ff" stroke-width="1.9"/><path d="M380.35 176.23H387.15" stroke="#0000ff" stroke-width="1.2"/><circle cx="390.49" cy="156.22" r="2.95" stroke="#0000ff" stroke-width="1.9"/><path d="M387.09 156.22H393.89" stroke="#0000ff" stroke-width="1.2"/><circle cx="397.24" cy="136.41" r="2.95" stroke="#0000ff" stroke-width="1.9"/><path d="M393.84 136.41H400.64" stroke="#0000ff" stroke-width="1.2"/><circle cx="403.99" cy="118.33" r="2.95" stroke="#0000ff" stroke-width="1.9"/><path d="M400.59 118.33H407.39" stroke="#0000ff" stroke-width="1.2"/><circle cx="437.73" cy="54.19" r="2.95" stroke="#0000ff" stroke-width="1.9"/><path d="M434.33 54.19H441.13" stroke="#0000ff" stroke-width="1.2"/><circle cx="471.47" cy="30.31" r="2.95" stroke="#0000ff" stroke-width="1.9"/><path d="M468.07 30.31H474.87" stroke="#0000ff" stroke-width="1.2"/><circle cx="505.21" cy="24.19" r="2.95" stroke="#0000ff" stroke-width="1.9"/><path d="M501.81 24.19H508.61" stroke="#0000ff" stroke-width="1.2"/><circle cx="538.96" cy="23.6" r="2.95" stroke="#0000ff" stroke-width="1.9"/><path d="M535.56 23.6H542.36" stroke="#0000ff" stroke-width="1.2"/><circle cx="572.7" cy="23.6" r="2.95" stroke="#0000ff" stroke-width="1.9"/><path d="M569.3 23.6H576.1" stroke="#0000ff" stroke-width="1.2"/><circle cx="606.44" cy="23.6" r="2.95" stroke="#0000ff" stroke-width="1.9"/><path d="M603.04 23.6H609.84" stroke="#0000ff" stroke-width="1.2"/><circle cx="640.18" cy="23.6" r="2.95" stroke="#0000ff" stroke-width="1.9"/><path d="M636.78 23.6H643.58" stroke="#0000ff" stroke-width="1.2"/></g>
<text transform="translate(185.1 143.7) scale(0.975 1)" text-anchor="end">256</text>
<g fill="none"><path d="M200 159.15H220.4M200 155.95V162.35M220.4 155.95V162.35" stroke="#bb77ff" stroke-width="0.92"/><path d="M210.2 162.25L213.3 157.55L207.1 157.55Z" stroke="#bb77ff" stroke-width="1.05"/><path d="M207 159.15H213.4" stroke="#bb77ff" stroke-width="1.1"/><path d="M134.06 418.5L167.8 418.5L201.54 418.5L235.28 418.5L242.03 418.5L248.78 418.5L255.53 418.5L262.28 418.5L269.02 418.5L275.77 418.5L282.52 418.33L289.27 416.01L296.02 411.2L302.77 403.42L306.14 398.49L309.51 392.8L312.89 386.41L316.26 378.52L319.64 369.64L323.01 359.95L326.38 349.64L329.76 338.9L333.13 327.51L336.51 315.07L339.88 302.02L343.26 288.84L350 261.8L356.75 232.79L363.5 202.87L370.25 172.72L377 143.79L383.75 117.58L390.49 95.2L397.24 75.19L403.99 59.6L437.73 26.99L471.47 24.19L505.21 23.6L538.96 23.6L572.7 23.6L606.44 23.6L640.18 23.6L673.92 23.6" stroke="#bb77ff" stroke-width="0.92" stroke-linejoin="round" clip-path="url(#c)"/><path d="M134.06 421.6L137.16 416.9L130.96 416.9Z" stroke="#bb77ff" stroke-width="1.05"/><path d="M130.86 418.5H137.26" stroke="#bb77ff" stroke-width="1.1"/><path d="M167.8 421.6L170.9 416.9L164.7 416.9Z" stroke="#bb77ff" stroke-width="1.05"/><path d="M164.6 418.5H171" stroke="#bb77ff" stroke-width="1.1"/><path d="M201.54 421.6L204.64 416.9L198.44 416.9Z" stroke="#bb77ff" stroke-width="1.05"/><path d="M198.34 418.5H204.74" stroke="#bb77ff" stroke-width="1.1"/><path d="M235.28 421.6L238.38 416.9L232.18 416.9Z" stroke="#bb77ff" stroke-width="1.05"/><path d="M232.08 418.5H238.48" stroke="#bb77ff" stroke-width="1.1"/><path d="M242.03 421.6L245.13 416.9L238.93 416.9Z" stroke="#bb77ff" stroke-width="1.05"/><path d="M238.83 418.5H245.23" stroke="#bb77ff" stroke-width="1.1"/><path d="M248.78 421.6L251.88 416.9L245.68 416.9Z" stroke="#bb77ff" stroke-width="1.05"/><path d="M245.58 418.5H251.98" stroke="#bb77ff" stroke-width="1.1"/><path d="M255.53 421.6L258.63 416.9L252.43 416.9Z" stroke="#bb77ff" stroke-width="1.05"/><path d="M252.33 418.5H258.73" stroke="#bb77ff" stroke-width="1.1"/><path d="M262.28 421.6L265.38 416.9L259.18 416.9Z" stroke="#bb77ff" stroke-width="1.05"/><path d="M259.08 418.5H265.48" stroke="#bb77ff" stroke-width="1.1"/><path d="M269.02 421.6L272.12 416.9L265.92 416.9Z" stroke="#bb77ff" stroke-width="1.05"/><path d="M265.82 418.5H272.22" stroke="#bb77ff" stroke-width="1.1"/><path d="M275.77 421.6L278.87 416.9L272.67 416.9Z" stroke="#bb77ff" stroke-width="1.05"/><path d="M272.57 418.5H278.97" stroke="#bb77ff" stroke-width="1.1"/><path d="M282.52 421.43L285.62 416.73L279.42 416.73Z" stroke="#bb77ff" stroke-width="1.05"/><path d="M279.32 418.33H285.72" stroke="#bb77ff" stroke-width="1.1"/><path d="M289.27 419.11L292.37 414.41L286.17 414.41Z" stroke="#bb77ff" stroke-width="1.05"/><path d="M286.07 416.01H292.47" stroke="#bb77ff" stroke-width="1.1"/><path d="M296.02 414.3L299.12 409.6L292.92 409.6Z" stroke="#bb77ff" stroke-width="1.05"/><path d="M292.82 411.2H299.22" stroke="#bb77ff" stroke-width="1.1"/><path d="M302.77 406.52L305.87 401.82L299.67 401.82Z" stroke="#bb77ff" stroke-width="1.05"/><path d="M299.57 403.42H305.97" stroke="#bb77ff" stroke-width="1.1"/><path d="M306.14 401.59L309.24 396.89L303.04 396.89Z" stroke="#bb77ff" stroke-width="1.05"/><path d="M302.94 398.49H309.34" stroke="#bb77ff" stroke-width="1.1"/><path d="M309.51 395.9L312.61 391.2L306.41 391.2Z" stroke="#bb77ff" stroke-width="1.05"/><path d="M306.31 392.8H312.71" stroke="#bb77ff" stroke-width="1.1"/><path d="M312.89 389.51L315.99 384.81L309.79 384.81Z" stroke="#bb77ff" stroke-width="1.05"/><path d="M309.69 386.41H316.09" stroke="#bb77ff" stroke-width="1.1"/><path d="M316.26 381.62L319.36 376.92L313.16 376.92Z" stroke="#bb77ff" stroke-width="1.05"/><path d="M313.06 378.52H319.46" stroke="#bb77ff" stroke-width="1.1"/><path d="M319.64 372.74L322.74 368.04L316.54 368.04Z" stroke="#bb77ff" stroke-width="1.05"/><path d="M316.44 369.64H322.84" stroke="#bb77ff" stroke-width="1.1"/><path d="M323.01 363.05L326.11 358.35L319.91 358.35Z" stroke="#bb77ff" stroke-width="1.05"/><path d="M319.81 359.95H326.21" stroke="#bb77ff" stroke-width="1.1"/><path d="M326.38 352.74L329.48 348.04L323.28 348.04Z" stroke="#bb77ff" stroke-width="1.05"/><path d="M323.18 349.64H329.58" stroke="#bb77ff" stroke-width="1.1"/><path d="M329.76 342L332.86 337.3L326.66 337.3Z" stroke="#bb77ff" stroke-width="1.05"/><path d="M326.56 338.9H332.96" stroke="#bb77ff" stroke-width="1.1"/><path d="M333.13 330.61L336.23 325.91L330.03 325.91Z" stroke="#bb77ff" stroke-width="1.05"/><path d="M329.93 327.51H336.33" stroke="#bb77ff" stroke-width="1.1"/><path d="M336.51 318.17L339.61 313.47L333.41 313.47Z" stroke="#bb77ff" stroke-width="1.05"/><path d="M333.31 315.07H339.71" stroke="#bb77ff" stroke-width="1.1"/><path d="M339.88 305.12L342.98 300.42L336.78 300.42Z" stroke="#bb77ff" stroke-width="1.05"/><path d="M336.68 302.02H343.08" stroke="#bb77ff" stroke-width="1.1"/><path d="M343.26 291.94L346.36 287.24L340.16 287.24Z" stroke="#bb77ff" stroke-width="1.05"/><path d="M340.06 288.84H346.46" stroke="#bb77ff" stroke-width="1.1"/><path d="M350 264.9L353.1 260.2L346.9 260.2Z" stroke="#bb77ff" stroke-width="1.05"/><path d="M346.8 261.8H353.2" stroke="#bb77ff" stroke-width="1.1"/><path d="M356.75 235.89L359.85 231.19L353.65 231.19Z" stroke="#bb77ff" stroke-width="1.05"/><path d="M353.55 232.79H359.95" stroke="#bb77ff" stroke-width="1.1"/><path d="M363.5 205.97L366.6 201.27L360.4 201.27Z" stroke="#bb77ff" stroke-width="1.05"/><path d="M360.3 202.87H366.7" stroke="#bb77ff" stroke-width="1.1"/><path d="M370.25 175.82L373.35 171.12L367.15 171.12Z" stroke="#bb77ff" stroke-width="1.05"/><path d="M367.05 172.72H373.45" stroke="#bb77ff" stroke-width="1.1"/><path d="M377 146.89L380.1 142.19L373.9 142.19Z" stroke="#bb77ff" stroke-width="1.05"/><path d="M373.8 143.79H380.2" stroke="#bb77ff" stroke-width="1.1"/><path d="M383.75 120.68L386.85 115.98L380.65 115.98Z" stroke="#bb77ff" stroke-width="1.05"/><path d="M380.55 117.58H386.95" stroke="#bb77ff" stroke-width="1.1"/><path d="M390.49 98.3L393.59 93.6L387.39 93.6Z" stroke="#bb77ff" stroke-width="1.05"/><path d="M387.29 95.2H393.69" stroke="#bb77ff" stroke-width="1.1"/><path d="M397.24 78.29L400.34 73.59L394.14 73.59Z" stroke="#bb77ff" stroke-width="1.05"/><path d="M394.04 75.19H400.44" stroke="#bb77ff" stroke-width="1.1"/><path d="M403.99 62.7L407.09 58L400.89 58Z" stroke="#bb77ff" stroke-width="1.05"/><path d="M400.79 59.6H407.19" stroke="#bb77ff" stroke-width="1.1"/><path d="M437.73 30.09L440.83 25.39L434.63 25.39Z" stroke="#bb77ff" stroke-width="1.05"/><path d="M434.53 26.99H440.93" stroke="#bb77ff" stroke-width="1.1"/><path d="M471.47 27.29L474.57 22.59L468.37 22.59Z" stroke="#bb77ff" stroke-width="1.05"/><path d="M468.27 24.19H474.67" stroke="#bb77ff" stroke-width="1.1"/><path d="M505.21 26.7L508.31 22L502.11 22Z" stroke="#bb77ff" stroke-width="1.05"/><path d="M502.01 23.6H508.41" stroke="#bb77ff" stroke-width="1.1"/><path d="M538.96 26.7L542.06 22L535.86 22Z" stroke="#bb77ff" stroke-width="1.05"/><path d="M535.76 23.6H542.16" stroke="#bb77ff" stroke-width="1.1"/><path d="M572.7 26.7L575.8 22L569.6 22Z" stroke="#bb77ff" stroke-width="1.05"/><path d="M569.5 23.6H575.9" stroke="#bb77ff" stroke-width="1.1"/><path d="M606.44 26.7L609.54 22L603.34 22Z" stroke="#bb77ff" stroke-width="1.05"/><path d="M603.24 23.6H609.64" stroke="#bb77ff" stroke-width="1.1"/><path d="M640.18 26.7L643.28 22L637.08 22Z" stroke="#bb77ff" stroke-width="1.05"/><path d="M636.98 23.6H643.38" stroke="#bb77ff" stroke-width="1.1"/></g>
<text transform="translate(185.1 167.2) scale(0.975 1)" text-anchor="end">512</text>
<g fill="none"><path d="M200 182.65H220.4M200 179.45V185.85M220.4 179.45V185.85" stroke="#00ffff" stroke-width="1.0"/><circle cx="210.2" cy="182.65" r="2.95" stroke="#00ffff" stroke-width="1.9"/><path d="M206.8 182.65H213.6" stroke="#00ffff" stroke-width="1.2"/><path d="M323.01 365.41L324.7 359.41L326.38 353.09L328.07 346.45L329.76 339.5L331.45 332.23L333.13 324.61L334.82 316.65L336.51 308.39L338.19 299.84L339.88 291.01L341.57 281.46L343.26 272.06" stroke="#00ffff" stroke-width="1.0" stroke-linejoin="round" clip-path="url(#c)"/><circle cx="323.01" cy="365.41" r="2.95" stroke="#00ffff" stroke-width="1.9"/><path d="M319.61 365.41H326.41" stroke="#00ffff" stroke-width="1.2"/><circle cx="324.7" cy="359.41" r="2.95" stroke="#00ffff" stroke-width="1.9"/><path d="M321.3 359.41H328.1" stroke="#00ffff" stroke-width="1.2"/><circle cx="326.38" cy="353.09" r="2.95" stroke="#00ffff" stroke-width="1.9"/><path d="M322.98 353.09H329.78" stroke="#00ffff" stroke-width="1.2"/><circle cx="328.07" cy="346.45" r="2.95" stroke="#00ffff" stroke-width="1.9"/><path d="M324.67 346.45H331.47" stroke="#00ffff" stroke-width="1.2"/><circle cx="329.76" cy="339.5" r="2.95" stroke="#00ffff" stroke-width="1.9"/><path d="M326.36 339.5H333.16" stroke="#00ffff" stroke-width="1.2"/><circle cx="331.45" cy="332.23" r="2.95" stroke="#00ffff" stroke-width="1.9"/><path d="M328.05 332.23H334.85" stroke="#00ffff" stroke-width="1.2"/><circle cx="333.13" cy="324.61" r="2.95" stroke="#00ffff" stroke-width="1.9"/><path d="M329.73 324.61H336.53" stroke="#00ffff" stroke-width="1.2"/><circle cx="334.82" cy="316.65" r="2.95" stroke="#00ffff" stroke-width="1.9"/><path d="M331.42 316.65H338.22" stroke="#00ffff" stroke-width="1.2"/><circle cx="336.51" cy="308.39" r="2.95" stroke="#00ffff" stroke-width="1.9"/><path d="M333.11 308.39H339.91" stroke="#00ffff" stroke-width="1.2"/><circle cx="338.19" cy="299.84" r="2.95" stroke="#00ffff" stroke-width="1.9"/><path d="M334.79 299.84H341.59" stroke="#00ffff" stroke-width="1.2"/><circle cx="339.88" cy="291.01" r="2.95" stroke="#00ffff" stroke-width="1.9"/><path d="M336.48 291.01H343.28" stroke="#00ffff" stroke-width="1.2"/><circle cx="341.57" cy="281.46" r="2.95" stroke="#00ffff" stroke-width="1.9"/><path d="M338.17 281.46H344.97" stroke="#00ffff" stroke-width="1.2"/><circle cx="343.26" cy="272.06" r="2.95" stroke="#00ffff" stroke-width="1.9"/><path d="M339.86 272.06H346.66" stroke="#00ffff" stroke-width="1.2"/></g>
<text transform="translate(185.1 190.7) scale(0.975 1)" text-anchor="end">1024</text>
<g fill="none"><path d="M200 206.15H220.4M200 202.95V209.35M220.4 202.95V209.35" stroke="#ffa500" stroke-width="0.92"/><path d="M210.2 202.85L213.2 206.15L210.2 209.45L207.2 206.15Z" stroke="#ffa500" stroke-width="1"/><path d="M207 206.15H213.4" stroke="#ffa500" stroke-width="1.1"/><path d="M324.7 364.23L326.38 355.9L328.07 348.05L329.76 340.06L331.45 330.88L333.13 320.72L334.82 309.85L336.51 298.49L338.19 286.86L339.88 274.51L341.57 261.09L343.26 247.79" stroke="#ffa500" stroke-width="0.92" stroke-linejoin="round" clip-path="url(#c)"/><path d="M324.7 360.93L327.7 364.23L324.7 367.53L321.7 364.23Z" stroke="#ffa500" stroke-width="1"/><path d="M321.5 364.23H327.9" stroke="#ffa500" stroke-width="1.1"/><path d="M326.38 352.6L329.38 355.9L326.38 359.2L323.38 355.9Z" stroke="#ffa500" stroke-width="1"/><path d="M323.18 355.9H329.58" stroke="#ffa500" stroke-width="1.1"/><path d="M328.07 344.75L331.07 348.05L328.07 351.35L325.07 348.05Z" stroke="#ffa500" stroke-width="1"/><path d="M324.87 348.05H331.27" stroke="#ffa500" stroke-width="1.1"/><path d="M329.76 336.76L332.76 340.06L329.76 343.36L326.76 340.06Z" stroke="#ffa500" stroke-width="1"/><path d="M326.56 340.06H332.96" stroke="#ffa500" stroke-width="1.1"/><path d="M331.45 327.58L334.45 330.88L331.45 334.18L328.45 330.88Z" stroke="#ffa500" stroke-width="1"/><path d="M328.25 330.88H334.65" stroke="#ffa500" stroke-width="1.1"/><path d="M333.13 317.42L336.13 320.72L333.13 324.02L330.13 320.72Z" stroke="#ffa500" stroke-width="1"/><path d="M329.93 320.72H336.33" stroke="#ffa500" stroke-width="1.1"/><path d="M334.82 306.55L337.82 309.85L334.82 313.15L331.82 309.85Z" stroke="#ffa500" stroke-width="1"/><path d="M331.62 309.85H338.02" stroke="#ffa500" stroke-width="1.1"/><path d="M336.51 295.19L339.51 298.49L336.51 301.79L333.51 298.49Z" stroke="#ffa500" stroke-width="1"/><path d="M333.31 298.49H339.71" stroke="#ffa500" stroke-width="1.1"/><path d="M338.19 283.56L341.19 286.86L338.19 290.16L335.19 286.86Z" stroke="#ffa500" stroke-width="1"/><path d="M334.99 286.86H341.39" stroke="#ffa500" stroke-width="1.1"/><path d="M339.88 271.21L342.88 274.51L339.88 277.81L336.88 274.51Z" stroke="#ffa500" stroke-width="1"/><path d="M336.68 274.51H343.08" stroke="#ffa500" stroke-width="1.1"/><path d="M341.57 257.79L344.57 261.09L341.57 264.39L338.57 261.09Z" stroke="#ffa500" stroke-width="1"/><path d="M338.37 261.09H344.77" stroke="#ffa500" stroke-width="1.1"/><path d="M343.26 244.49L346.26 247.79L343.26 251.09L340.26 247.79Z" stroke="#ffa500" stroke-width="1"/><path d="M340.06 247.79H346.46" stroke="#ffa500" stroke-width="1.1"/></g>
<text transform="translate(185.1 214.2) scale(0.975 1)" text-anchor="end">2048</text>
<g fill="none"><path d="M200 229.65H220.4M200 226.45V232.85M220.4 226.45V232.85" stroke="#ff00ff" stroke-width="1.0"/><circle cx="210.2" cy="229.65" r="2.95" stroke="#ff00ff" stroke-width="1.9"/><path d="M206.8 229.65H213.6" stroke="#ff00ff" stroke-width="1.2"/><path d="M324.7 371.8L326.38 363.04L328.07 352.78L329.76 341.14L331.45 328.9L333.13 315.28L334.82 300.21L336.51 285.21L338.19 268.51L343.26 214.24" stroke="#ff00ff" stroke-width="1.0" stroke-linejoin="round" clip-path="url(#c)"/><circle cx="324.7" cy="371.8" r="2.95" stroke="#ff00ff" stroke-width="1.9"/><path d="M321.3 371.8H328.1" stroke="#ff00ff" stroke-width="1.2"/><circle cx="326.38" cy="363.04" r="2.95" stroke="#ff00ff" stroke-width="1.9"/><path d="M322.98 363.04H329.78" stroke="#ff00ff" stroke-width="1.2"/><circle cx="328.07" cy="352.78" r="2.95" stroke="#ff00ff" stroke-width="1.9"/><path d="M324.67 352.78H331.47" stroke="#ff00ff" stroke-width="1.2"/><circle cx="329.76" cy="341.14" r="2.95" stroke="#ff00ff" stroke-width="1.9"/><path d="M326.36 341.14H333.16" stroke="#ff00ff" stroke-width="1.2"/><circle cx="331.45" cy="328.9" r="2.95" stroke="#ff00ff" stroke-width="1.9"/><path d="M328.05 328.9H334.85" stroke="#ff00ff" stroke-width="1.2"/><circle cx="333.13" cy="315.28" r="2.95" stroke="#ff00ff" stroke-width="1.9"/><path d="M329.73 315.28H336.53" stroke="#ff00ff" stroke-width="1.2"/><circle cx="334.82" cy="300.21" r="2.95" stroke="#ff00ff" stroke-width="1.9"/><path d="M331.42 300.21H338.22" stroke="#ff00ff" stroke-width="1.2"/><circle cx="336.51" cy="285.21" r="2.95" stroke="#ff00ff" stroke-width="1.9"/><path d="M333.11 285.21H339.91" stroke="#ff00ff" stroke-width="1.2"/><circle cx="338.19" cy="268.51" r="2.95" stroke="#ff00ff" stroke-width="1.9"/><path d="M334.79 268.51H341.59" stroke="#ff00ff" stroke-width="1.2"/><circle cx="343.26" cy="214.24" r="2.95" stroke="#ff00ff" stroke-width="1.9"/><path d="M339.86 214.24H346.66" stroke="#ff00ff" stroke-width="1.2"/></g>
<text transform="translate(185.1 237.7) scale(0.975 1)" text-anchor="end">4096</text>
<path d="M330.55 367.2V296" stroke="#000" stroke-opacity="0.13" stroke-width="1.3" stroke-dasharray="0 4.9 5.8 4" fill="none"/>
<path d="M330.55 367.2V296" stroke="#000" stroke-width="1.55" stroke-dasharray="4.9 9.8" fill="none"/>
<rect x="115.5" y="23.6" width="548.3" height="394.9" fill="none" stroke="#000" stroke-width="1.4"/>
</svg></body></html>
